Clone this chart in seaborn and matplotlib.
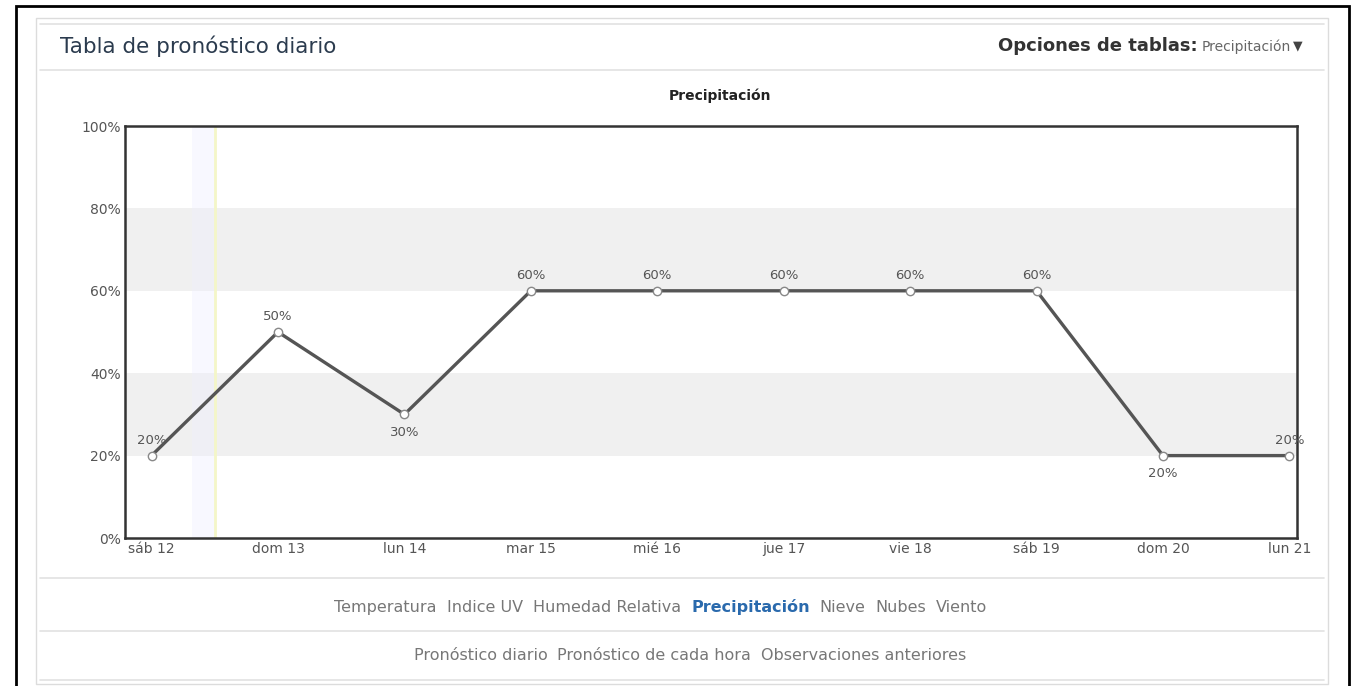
import matplotlib
matplotlib.use("Agg")
import matplotlib.pyplot as plt
from matplotlib.patches import Rectangle
from matplotlib.lines import Line2D
import seaborn as sns
import pandas as pd

days = ["sáb 12", "dom 13", "lun 14", "mar 15", "mié 16",
        "jue 17", "vie 18", "sáb 19", "dom 20", "lun 21"]
precip = [20, 50, 30, 60, 60, 60, 60, 60, 20, 20]
label_below = [False, False, True, False, False, False, False, False, True, False]
y_ticks = [0, 20, 40, 60, 80, 100]
bands = [(20, 40), (60, 80)]
tabs = ["Temperatura", "Indice UV", "Humedad Relativa", "Precipitación",
        "Nieve", "Nubes", "Viento"]
active_tab = "Precipitación"
views = ["Pronóstico diario", "Pronóstico de cada hora", "Observaciones anteriores"]

sns.set_style("white")
plt.rcParams['font.family'] = ['DejaVu Sans']

df = pd.DataFrame({'day': days, 'pos': range(len(days)), 'precip': precip})

W, H = 1362, 686
fig = plt.figure(figsize=(W / 100, H / 100), dpi=100)
fig.patch.set_facecolor('white')

def fx(px):
    return px / W

def fy(py):
    return 1 - py / H

# page frame and panel
fig.add_artist(Rectangle((fx(16), fy(690)), fx(1349) - fx(16), fy(6) - fy(690),
                         transform=fig.transFigure, fill=False, edgecolor='black', linewidth=2))
fig.add_artist(Rectangle((fx(36), fy(684)), fx(1328) - fx(36), fy(18) - fy(684),
                         transform=fig.transFigure, fill=False, edgecolor='#dcdcdc', linewidth=1))
for py in (24, 70, 578, 631, 680):
    fig.add_artist(Line2D([fx(40), fx(1324)], [fy(py), fy(py)], transform=fig.transFigure,
                          color='#e2e2e2', linewidth=1.2))

fig.text(fx(60), fy(46), "Tabla de pronóstico diario", fontsize=15.5, color='#2b3b4e',
         ha='left', va='center')
fig.text(fx(1198), fy(46), "Opciones de tablas:", fontsize=13, color='#333333',
         fontweight='bold', ha='right', va='center')
fig.text(fx(1202), fy(47), "Precipitación", fontsize=10, color='#666666',
         ha='left', va='center')
fig.text(fx(1293), fy(46), "▼", fontsize=9, color='#444444', ha='left', va='center')
fig.text(fx(720), fy(96), "Precipitación", fontsize=10, color='#222222',
         fontweight='bold', ha='center', va='center')

ax = fig.add_axes([fx(125), fy(538), fx(1297) - fx(125), fy(126) - fy(538)])
ax.set_facecolor('white')
for lo, hi in bands:
    ax.axhspan(lo, hi, color='#f0f0f0', zorder=0, linewidth=0)
ax.axvspan(0.32, 0.5, color='#eeeeff', alpha=0.4, zorder=0, linewidth=0)
ax.axvline(0.5, color='#f4f6c8', linewidth=2, zorder=1)

sns.lineplot(data=df, x='pos', y='precip', ax=ax, color='#555555', linewidth=2.4,
             marker='o', markersize=6, markerfacecolor='white',
             markeredgecolor='#888888', markeredgewidth=1, zorder=3)

for i, (v, below) in enumerate(zip(precip, label_below)):
    off = -13 if below else 11
    ax.annotate(f"{v}%", (i, v), xytext=(0, off), textcoords='offset points',
                ha='center', va='center', fontsize=9.5, color='#555555')

ax.set_xlim(-0.21, 9.06)
ax.set_ylim(0, 100)
ax.set_xticks(range(len(days)))
ax.set_xticklabels(days)
ax.set_yticks(y_ticks)
ax.set_yticklabels([f"{t}%" for t in y_ticks])
ax.tick_params(axis='both', length=0, labelsize=10, labelcolor='#555555', pad=3)
ax.set_xlabel("")
ax.set_ylabel("")
for s in ax.spines.values():
    s.set_visible(True)
    s.set_color('#333333')
    s.set_linewidth(1.8)

# link rows, laid out left to right and centred
def link_row(items, y, center, active=None, gap=10):
    texts = []
    for t in items:
        bold = t == active
        texts.append(fig.text(0, fy(y), t, fontsize=11.5, ha='left', va='baseline',
                              color='#2a6aad' if bold else '#777777',
                              fontweight='bold' if bold else 'normal'))
    fig.canvas.draw()
    widths = [t.get_window_extent().width for t in texts]
    total = sum(widths) + gap * (len(items) - 1)
    x = center - total / 2
    for t, w in zip(texts, widths):
        t.set_x(fx(x))
        x += w + gap

link_row(tabs, 612, 661, active=active_tab)
link_row(views, 660, 690)

fig.savefig("out.png", dpi=100)
